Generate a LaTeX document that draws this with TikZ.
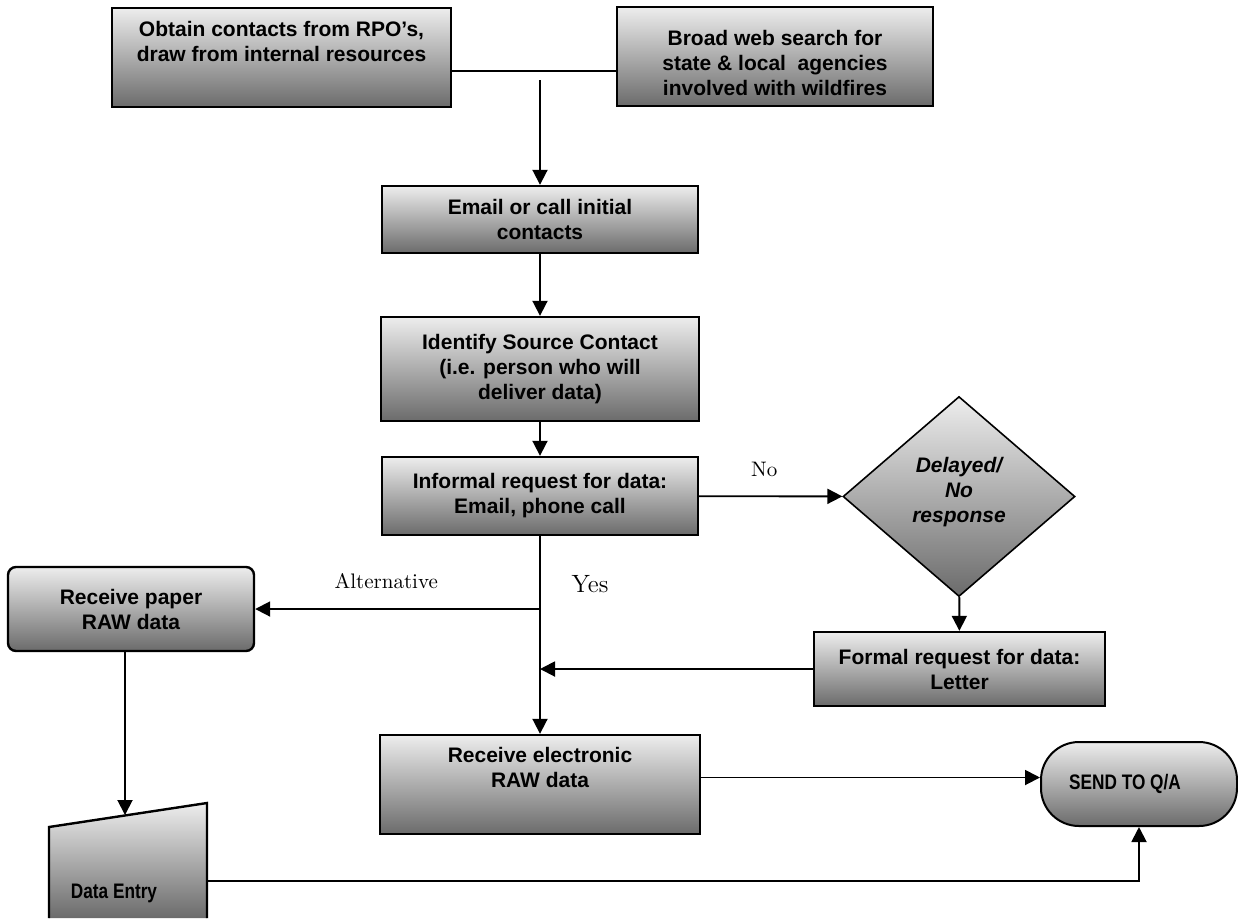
\documentclass[tikz,border=0pt]{standalone}
\usepackage{fontspec}
\setsansfont{Liberation Sans}
\newfontfamily\narrowsf[FakeStretch=0.82]{Liberation Sans}
\usepackage{tikz}
\usetikzlibrary{arrows.meta,shapes.geometric}
\definecolor{boxtop}{gray}{0.93}
\definecolor{boxbot}{gray}{0.42}
\tikzset{
  >={Triangle[length=7.5pt,width=7.5pt]},
}
\tikzstyle{every node}=[font=\fontsize{10.5}{12.5}\selectfont\sffamily\bfseries]
\tikzstyle{process}=[draw,line width=1.2pt,top color=boxtop,bottom color=boxbot,align=center,inner sep=0pt]
\tikzstyle{terminal}=[process,rounded corners=19pt,line width=1pt]
\tikzstyle{decision}=[diamond,draw,line width=0.8pt,top color=boxtop,bottom color=boxbot,align=center,inner sep=0pt,font=\fontsize{10.5}{12.5}\selectfont\sffamily\bfseries\itshape]
\tikzstyle{branch}=[font=\fontsize{10.5}{12.5}\selectfont\rmfamily]

\begin{document}
\begin{tikzpicture}[x=0.5pt,y=-0.5pt,line width=0.95pt]
  \useasboundingbox (0,0) rectangle (1238,918);
  \node[process,minimum width=169.5pt,minimum height=49.5pt] (obtain) at (281.5,57.5) {Obtain contacts from RPO’s,\\draw from internal resources\\[3.5pt]\mbox{}};
  \node[process,minimum width=158pt,minimum height=49.5pt] (broad) at (775,56.5) {\rule{0pt}{13.6pt}Broad web search for\\state \& local\ \ agencies\\involved with wildfires};
  \node[process,minimum width=158pt,minimum height=33.5pt] (email) at (540,219.5) {Email or call initial\\contacts};
  \node[process,minimum width=159pt,minimum height=52pt] (ident) at (540,369) {Identify Source Contact\\(i.e. person who will\\deliver data)};
  \node[process,minimum width=158pt,minimum height=39pt] (inf) at (540,496) {Informal request for data:\\Email, phone call};
  \node[decision,minimum width=116pt,minimum height=100pt] (delay) at (959,496.5) {Delayed/\\No\\response\\[-6pt]\mbox{}};
  \node[process,minimum width=145.5pt,minimum height=37pt] (formal) at (959.5,669) {Formal request for data:\\Letter};
  \node[process,rounded corners=4pt,minimum width=123pt,minimum height=42pt] (paper) at (131,609) {Receive paper\\RAW data};
  \node[process,minimum width=160pt,minimum height=49.5pt] (recv) at (540,784.5) {Receive electronic\\RAW data\\[4.5pt]\mbox{}};
  \node[terminal,minimum width=98pt,minimum height=42pt] (send) at (1139,784) {\narrowsf SEND TO Q/A\hspace*{14pt}};
  \shade[top color=boxtop,bottom color=boxbot] (49,827) -- (207,803) -- (207,918) -- (49,918) -- cycle;
  \draw[line width=1.2pt] (49,918) -- (49,827) -- (207,803) -- (207,918);
  \node[anchor=west,inner sep=0pt] (entry) at (70,893) {\narrowsf Data Entry};
  \coordinate (entryin) at (125,815);
  \coordinate (entryout) at (207,881);
  \coordinate (merge) at (540,71);
  \coordinate (split) at (inf.south |- paper.east);
  \draw (obtain.east |- merge) -- (broad.west |- merge);
  \draw[->] ([yshift=-4.5pt]merge) -- (email.north);
  \draw[->] (email) -- (ident);
  \draw[->] (ident) -- (inf);
  \draw[->] (inf) -- node[branch,pos=0.455,above=6pt]{No} (delay);
  \draw[->] (delay) -- (formal);
  \draw[->] (inf) -- node[branch,pos=0.24,right=12pt,font=\fontsize{12.5}{14}\selectfont\rmfamily]{Yes} (recv);
  \draw[->] (split) -- node[branch,pos=0.54,above=6.5pt]{Alternative} (paper);
  \draw[->] (formal) -- (formal.west -| inf.south);
  \draw[->] (paper.south -| entryin) -- (entryin);
  \draw[->] ([yshift=3.5pt]recv.east) -- ([yshift=3.5pt]recv.east -| send.west);
  \draw[->] (entryout) -| (send.south);
\end{tikzpicture}
\end{document}
